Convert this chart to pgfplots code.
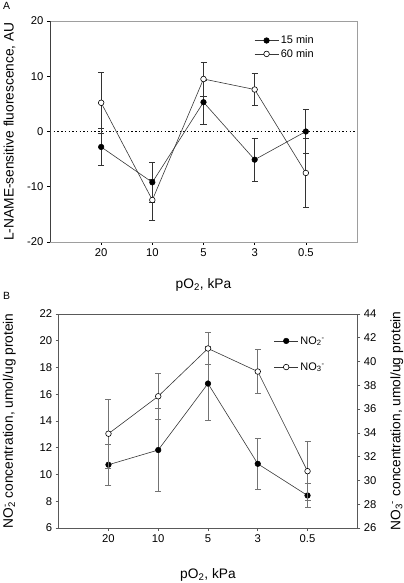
\documentclass[border=0pt]{standalone}
\usepackage{fontspec}
\setmainfont{Liberation Sans}
\usepackage{pgfplots}
\pgfplotsset{compat=1.18}

\definecolor{ln}{gray}{0.22}
\definecolor{fa}{gray}{0.62}
\definecolor{fb}{gray}{0.35}
\definecolor{eb}{gray}{0.2}
\definecolor{ebb}{gray}{0.45}

\pgfplotsset{
  myax/.style={scale only axis, xmin=0, xmax=6,
    xtick={1,2,3,4,5}, xticklabels={20,10,5,3,0.5},
    tick align=outside, major tick length=3bp,
    /pgf/number format/assume math mode=true,
    tick label style={font=\fontsize{11.3}{13}\selectfont},
    label style={font=\fontsize{13.8}{15}\selectfont},
    legend style={font=\fontsize{11}{13}\selectfont, draw=none, fill=none},
    legend cell align=left,
    legend image code/.code={\draw[mark repeat=2,mark phase=2,##1] plot coordinates {(0bp,0bp) (12bp,0bp) (24bp,0bp)};},
  },
  ebA/.style={error bars/.cd, y dir=both, y explicit,
    error bar style={line width=0.7pt, color=eb},
    error mark options={rotate=90, mark size=3bp, line width=0.7pt, color=eb}},
  ebB/.style={error bars/.cd, y dir=both, y explicit,
    error bar style={line width=0.9pt, color=ebb},
    error mark options={rotate=90, mark size=3bp, line width=0.9pt, color=ebb}},
  filled/.style={color=ln, line width=0.6pt, mark=*, mark size=2.8bp, mark options={fill=black, draw=black, line width=0.5pt}},
  open/.style={color=ln, line width=0.6pt, mark=*, mark size=2.8bp, mark options={fill=white, draw=black, line width=0.6pt}},
}

\begin{document}
\begin{tikzpicture}
\useasboundingbox (0,0) rectangle (404bp,583bp);

% ---------- Panel A ----------
\begin{axis}[myax,
  at={(50bp,341bp)}, anchor=south west,
  width=307bp, height=221bp,
  ymin=-20, ymax=20, ytick={-20,-10,0,10,20},
  xtick pos=left, ytick pos=left,
  axis line style={fa, line width=0.9pt},
  tick style={black, line width=0.6pt},
  xlabel={pO\textsubscript{2}, kPa},
  ylabel={L-NAME-sensitive fluorescence, AU},
  xlabel style={at={(axis description cs:0.5,-0.195)}, anchor=center},
  ylabel style={at={(axis description cs:-0.132,0.5)}, anchor=center},
  legend style={at={(axis description cs:0.655,0.952)}, anchor=north west, row sep=0bp},
]
\addplot[black, line width=1.3pt, dash pattern=on 1.4bp off 2.3bp, forget plot] coordinates {(0,0) (6,0)};
\addplot[filled, ebA] table[x=x, y=y, y error=e] {
x y e
1 -2.8 3.4
2 -9.2 3.6
3 5.3 4.0
4 -5.1 3.9
5 0.0 4.0
};
\addlegendentry{15 min}
\addplot[open, ebA] table[x=x, y=y, y error=e] {
x y e
1 5.2 5.5
2 -12.4 3.7
3 9.5 3.1
4 7.6 2.9
5 -7.5 6.3
};
\addlegendentry{60 min}
\draw[black!75, line width=0.8pt] (rel axis cs:0,0) -- (rel axis cs:0,1);
\end{axis}

% ---------- Panel B, left axis ----------
\begin{axis}[myax,
  at={(58.7bp,55bp)}, anchor=south west,
  width=298.6bp, height=214bp,
  ymin=6, ymax=22, ytick={6,8,...,22},
  xtick pos=left, ytick pos=left,
  axis line style={fb, line width=0.8pt},
  tick style={fb, line width=0.6pt},
  xlabel={pO\textsubscript{2}, kPa},
  ylabel={NO\rlap{\textsuperscript{-}}\textsubscript{2} concentration, umol/ug protein},
  xlabel style={at={(axis description cs:0.5,-0.22)}, anchor=center},
  ylabel style={at={(axis description cs:-0.165,0.5)}, anchor=center},
]
\addplot[filled, ebB] table[x=x, y=y, y error=e] {
x y e
1 10.73 1.53
2 11.83 3.08
3 16.80 2.75
4 10.80 1.90
5 8.43 0.93
};
\end{axis}

% ---------- Panel B, right axis ----------
\begin{axis}[myax,
  at={(58.7bp,55bp)}, anchor=south west,
  width=298.6bp, height=214bp,
  ymin=26, ymax=44, ytick={26,28,...,44},
  axis y line*=right, axis x line=none,
  axis line style={fb, line width=0.8pt},
  tick style={fb, line width=0.6pt},
  ylabel={NO\textsubscript{3}\textsuperscript{-} concentration, umol/ug protein},
  ylabel style={at={(axis description cs:1.132,0.5)}, anchor=center, rotate=0},
  legend style={at={(axis description cs:0.71,0.915)}, anchor=north west, row sep=13bp},
]
\addlegendimage{filled}
\addlegendentry{NO\textsubscript{2}\textsuperscript{-}}
\addplot[open, ebB] table[x=x, y=y, y error=e] {
x y e
1 33.93 2.90
2 37.08 1.94
3 41.10 1.38
4 39.16 1.86
5 30.78 2.50
};
\addlegendentry{NO\textsubscript{3}\textsuperscript{-}}
\end{axis}

\node[font=\fontsize{10.5}{12}\selectfont] at (6.5bp,577bp) {A};
\node[font=\fontsize{10.5}{12}\selectfont] at (6.5bp,287bp) {B};
\end{tikzpicture}
\end{document}
